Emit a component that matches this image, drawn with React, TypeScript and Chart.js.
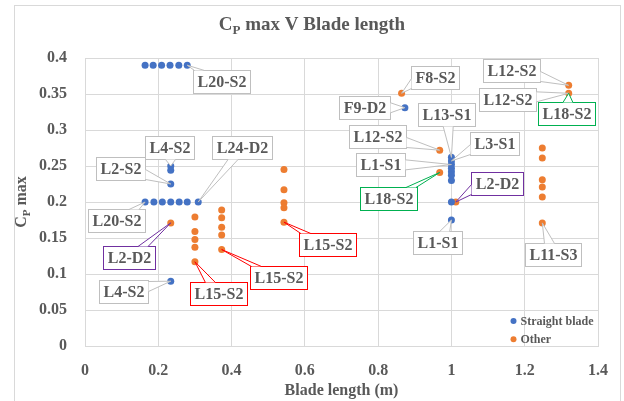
import React, { useEffect, useRef } from "react";
import { Chart, registerables } from "chart.js";

Chart.register(...registerables);

// ---- Data ----
const straightX = [0.164, 0.186, 0.209, 0.232, 0.256, 0.279, 0.234, 0.234, 0.234, 0.164, 0.188, 0.211, 0.234, 0.257, 0.279, 0.309, 0.234, 0.873, 1.0, 1.0, 1.0, 1.0, 1.0, 1.0, 1.0, 1.0, 1.0];
const straightY = [0.39, 0.39, 0.39, 0.39, 0.39, 0.39, 0.25, 0.244, 0.225, 0.2, 0.2, 0.2, 0.2, 0.2, 0.2, 0.2, 0.09, 0.331, 0.262, 0.257, 0.252, 0.247, 0.242, 0.237, 0.23, 0.2, 0.175];
const otherX = [0.234, 0.3, 0.3, 0.3, 0.3, 0.3, 0.373, 0.373, 0.373, 0.373, 0.373, 0.543, 0.543, 0.543, 0.543, 0.543, 0.864, 0.968, 0.968, 1.012, 1.248, 1.248, 1.248, 1.248, 1.248, 1.248, 1.32, 1.32];
const otherY = [0.171, 0.179, 0.159, 0.148, 0.137, 0.117, 0.189, 0.178, 0.165, 0.154, 0.134, 0.245, 0.217, 0.199, 0.192, 0.172, 0.351, 0.272, 0.241, 0.2, 0.275, 0.261, 0.231, 0.221, 0.207, 0.171, 0.362, 0.351];
const seriesNames = ["Straight blade", "Other"];
const xTickValues = [0, 0.2, 0.4, 0.6, 0.8, 1, 1.2, 1.4];
const yTickValues = [0, 0.05, 0.1, 0.15, 0.2, 0.25, 0.3, 0.35, 0.4];
const titleMain = "C";
const titleSub = "P";
const titleRest = " max V Blade length";
const xTitle = "Blade length (m)";
const yTitleMain = "C";
const yTitleSub = "P";
const yTitleRest = " max";

// ---- Styles ----
const BLUE = "#4472C4";
const ORANGE = "#ED7D31";
const TEXT = "#595959";
const GRID = "#D9D9D9";
const GRAYB = "#BFBFBF";
const RED = "#FF0000";
const PURPLE = "#7030A0";
const GREEN = "#00B050";
const FONT = "'Liberation Serif', 'Times New Roman', serif";

// callout annotations: text, series, point index, box-centre offset (px), border colour
const callouts = [
  { text: "L20-S2", s: 0, i: 5, dx: 34, dy: 16, c: GRAYB },
  { text: "L4-S2", s: 0, i: 6, dx: -1, dy: -19, c: GRAYB },
  { text: "L2-S2", s: 0, i: 8, dx: -50, dy: -16, c: GRAYB },
  { text: "L24-D2", s: 0, i: 15, dx: 44, dy: -55, c: GRAYB },
  { text: "L20-S2", s: 0, i: 9, dx: -29, dy: 18.5, c: GRAYB },
  { text: "L2-D2", s: 1, i: 0, dx: -42, dy: 35, c: PURPLE },
  { text: "L4-S2", s: 0, i: 16, dx: -47.5, dy: 10, c: GRAYB },
  { text: "L15-S2", s: 1, i: 5, dx: 24, dy: 32, c: RED },
  { text: "L15-S2", s: 1, i: 10, dx: 57, dy: 27.5, c: RED },
  { text: "L15-S2", s: 1, i: 15, dx: 44, dy: 22, c: RED },
  { text: "F8-S2", s: 1, i: 16, dx: 33, dy: -16, c: GRAYB },
  { text: "F9-D2", s: 0, i: 17, dx: -40, dy: 0, c: GRAYB },
  { text: "L12-S2", s: 1, i: 17, dx: -62, dy: -14, c: GRAYB },
  { text: "L1-S1", s: 0, i: 20, dx: -71, dy: 0, c: GRAYB },
  { text: "L18-S2", s: 1, i: 18, dx: -51, dy: 26.5, c: GREEN },
  { text: "L13-S1", s: 0, i: 18, dx: -5, dy: -43, c: GRAYB },
  { text: "L3-S1", s: 0, i: 19, dx: 43, dy: -17.5, c: GRAYB },
  { text: "L2-D2", s: 1, i: 19, dx: 41.5, dy: -18.5, c: PURPLE },
  { text: "L1-S1", s: 0, i: 26, dx: -14, dy: 22, c: GRAYB },
  { text: "L12-S2", s: 1, i: 26, dx: -57, dy: -15, c: GRAYB },
  { text: "L12-S2", s: 1, i: 27, dx: -61.5, dy: 6, c: GRAYB },
  { text: "L18-S2", s: 1, i: 27, dx: -2, dy: 20.5, c: GREEN },
  { text: "L11-S3", s: 1, i: 25, dx: 10.5, dy: 32, c: GRAYB },
];

function fmt(v: number) {
  return String(Math.round(v * 100) / 100);
}

function drawSubText(ctx: CanvasRenderingContext2D, x: number, y: number, main: string, sub: string, rest: string, size: number, subSize: number) {
  const f1 = `bold ${size}px ${FONT}`;
  const f2 = `bold ${subSize}px ${FONT}`;
  ctx.font = f1;
  const w1 = ctx.measureText(main).width;
  const w3 = ctx.measureText(rest).width;
  ctx.font = f2;
  const w2 = ctx.measureText(sub).width;
  const total = w1 + w2 + w3;
  let cx = x - total / 2;
  ctx.textAlign = "left";
  ctx.textBaseline = "alphabetic";
  ctx.font = f1;
  ctx.fillText(main, cx, y);
  cx += w1;
  ctx.font = f2;
  ctx.fillText(sub, cx, y + size * 0.22);
  cx += w2;
  ctx.font = f1;
  ctx.fillText(rest, cx, y);
}

const decorPlugin = {
  id: "decor",
  beforeDraw(chart: any) {
    const ctx = chart.ctx as CanvasRenderingContext2D;
    ctx.save();
    ctx.fillStyle = "#FFFFFF";
    ctx.fillRect(0, 0, chart.width, chart.height);
    ctx.strokeStyle = GRID;
    ctx.lineWidth = 1;
    ctx.strokeRect(14.5, 5.5, 606, 420);
    ctx.restore();
  },
  afterDraw(chart: any) {
    const ctx = chart.ctx as CanvasRenderingContext2D;
    const area = chart.chartArea;
    ctx.save();
    ctx.fillStyle = TEXT;
    // title
    drawSubText(ctx, 312, 30, titleMain, titleSub, titleRest, 19, 13);
    // x title
    ctx.font = `bold 16px ${FONT}`;
    ctx.textAlign = "center";
    ctx.textBaseline = "alphabetic";
    ctx.fillText(xTitle, (area.left + area.right) / 2, 395);
    // y title
    ctx.save();
    ctx.translate(26, (area.top + area.bottom) / 2);
    ctx.rotate(-Math.PI / 2);
    drawSubText(ctx, 0, 0, yTitleMain, yTitleSub, yTitleRest, 16, 11);
    ctx.restore();
    // legend
    const colors = [BLUE, ORANGE];
    ctx.font = `bold 12px ${FONT}`;
    ctx.textAlign = "left";
    ctx.textBaseline = "middle";
    seriesNames.forEach((n, k) => {
      const y = 321 + k * 18.3;
      ctx.fillStyle = colors[k];
      ctx.beginPath();
      ctx.arc(513.5, y, 3, 0, Math.PI * 2);
      ctx.fill();
      ctx.fillStyle = TEXT;
      ctx.fillText(n, 520.5, y + 0.5);
    });
    ctx.restore();
  },
  afterDatasetsDraw(chart: any) {
    const ctx = chart.ctx as CanvasRenderingContext2D;
    ctx.save();
    ctx.font = `bold 16px ${FONT}`;
    callouts.forEach((cl) => {
      const el = chart.getDatasetMeta(cl.s).data[cl.i];
      if (!el) return;
      const px = el.x, py = el.y;
      const cx = px + cl.dx, cy = py + cl.dy;
      const tw = ctx.measureText(cl.text).width;
      const w = Math.round(tw + 8), h = 23;
      const x0 = Math.round(cx - w / 2) + 0.5, y0 = Math.round(cy - h / 2) + 0.5;
      const hw = w / 2, hh = h / 2;
      const bx = x0 + hw, by = y0 + hh;
      ctx.fillStyle = "#FFFFFF";
      ctx.strokeStyle = cl.c;
      ctx.lineWidth = 1;
      ctx.fillRect(x0, y0, w, h);
      ctx.strokeRect(x0, y0, w, h);
      const vx = px - bx, vy = py - by;
      const tx = vx !== 0 ? hw / Math.abs(vx) : Infinity;
      const ty = vy !== 0 ? hh / Math.abs(vy) : Infinity;
      let a1x, a1y, a2x, a2y;
      const half = 5;
      if (tx < ty) {
        const ex = bx + Math.sign(vx) * hw;
        let ey = by + vy * tx;
        ey = Math.max(y0 + half + 1, Math.min(y0 + h - half - 1, ey));
        a1x = ex; a2x = ex; a1y = ey - half; a2y = ey + half;
      } else {
        const ey = by + Math.sign(vy) * hh;
        let ex = bx + vx * ty;
        ex = Math.max(x0 + half + 1, Math.min(x0 + w - half - 1, ex));
        a1y = ey; a2y = ey; a1x = ex - half; a2x = ex + half;
      }
      const inside = px > x0 && px < x0 + w && py > y0 && py < y0 + h;
      if (!inside) {
        ctx.fillStyle = "#FFFFFF";
        ctx.beginPath();
        ctx.moveTo(a1x, a1y);
        ctx.lineTo(px, py);
        ctx.lineTo(a2x, a2y);
        ctx.closePath();
        ctx.fill();
        ctx.beginPath();
        ctx.moveTo(a1x, a1y);
        ctx.lineTo(px, py);
        ctx.lineTo(a2x, a2y);
        ctx.stroke();
      }
      ctx.fillStyle = TEXT;
      ctx.textAlign = "center";
      ctx.textBaseline = "middle";
      ctx.fillText(cl.text, bx, by + 1);
    });
    ctx.restore();
  },
};

export default function App() {
  const ref = useRef<HTMLCanvasElement>(null);
  useEffect(() => {
    document.body.style.margin = "0";
    const canvas = ref.current;
    if (!canvas) return;
    const toPts = (xs: number[], ys: number[]) => xs.map((x, k) => ({ x, y: ys[k] }));
    const chart = new Chart(canvas, {
      type: "scatter",
      data: {
        datasets: [
          { label: seriesNames[0], data: toPts(straightX, straightY), backgroundColor: BLUE, borderColor: BLUE, pointRadius: 3.5, borderWidth: 0 },
          { label: seriesNames[1], data: toPts(otherX, otherY), backgroundColor: ORANGE, borderColor: ORANGE, pointRadius: 3.5, borderWidth: 0 },
        ],
      },
      options: {
        responsive: false,
        animation: false,
        layout: { padding: { top: 58, right: 26, bottom: 0, left: 0 } },
        plugins: { legend: { display: false }, title: { display: false }, tooltip: { enabled: false } },
        scales: {
          x: {
            type: "linear",
            min: 0,
            max: 1.4,
            afterBuildTicks: (s: any) => { s.ticks = xTickValues.map((v) => ({ value: v })); },
            afterFit: (s: any) => { s.height = 55; },
            grid: { color: GRID, tickLength: 0 },
            border: { color: GRID },
            ticks: { color: TEXT, font: { family: FONT, size: 16, weight: "bold" }, padding: 15, callback: (v: any) => fmt(Number(v)), maxRotation: 0 },
          },
          y: {
            type: "linear",
            min: 0,
            max: 0.4,
            afterBuildTicks: (s: any) => { s.ticks = yTickValues.map((v) => ({ value: v })); },
            afterFit: (s: any) => { s.width = 85; },
            grid: { color: GRID, tickLength: 0 },
            border: { color: GRID },
            ticks: { color: TEXT, font: { family: FONT, size: 16, weight: "bold" }, padding: 18, callback: (v: any) => fmt(Number(v)) },
          },
        },
      },
      plugins: [decorPlugin],
    } as any);
    return () => chart.destroy();
  }, []);
  return (
    <div style={{ position: "fixed", left: 0, top: 0, width: 624, height: 401 }}>
      <canvas ref={ref} width={624} height={401} style={{ display: "block" }} />
    </div>
  );
}
